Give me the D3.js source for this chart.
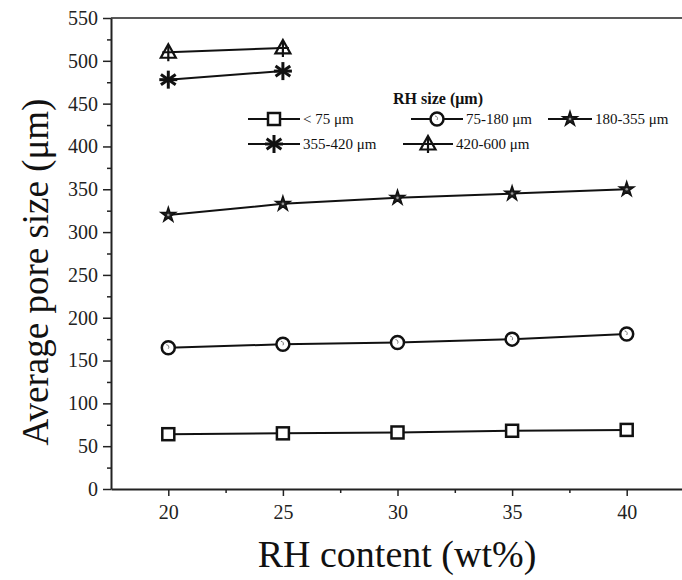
<!DOCTYPE html>
<html>
<head>
<meta charset="utf-8">
<script src="https://cdn.jsdelivr.net/npm/d3@7"></script>
<style>
  body { margin: 0; background: #ffffff; }
  svg text { font-family: "Liberation Serif", "Times New Roman", Times, serif; fill: #111; }
</style>
</head>
<body>
<script>
// data
const rhContent = [20, 25, 30, 35, 40];
const seriesNames = ["< 75 \u03bcm", "75-180 \u03bcm", "180-355 \u03bcm", "355-420 \u03bcm", "420-600 \u03bcm"];
const seriesMarkers = ["square", "circle", "star", "asterisk", "triangle"];
const sizeBelow75 = [64, 65, 66, 68, 69];
const size75to180 = [165, 169, 171, 175, 181];
const size180to355 = [320, 333, 340, 345, 350];
const size355to420 = [478, 488];
const size420to600 = [510, 515];
const xTicks = [20, 25, 30, 35, 40];
const yTicks = [0, 50, 100, 150, 200, 250, 300, 350, 400, 450, 500, 550];

const allSeries = [sizeBelow75, size75to180, size180to355, size355to420, size420to600];

const W = 682, H = 580;
const m = { left: 111, top: 18, right: 0, bottom: 91 };
const serif = "\"Liberation Serif\", \"Times New Roman\", Times, serif";

const svg = d3.select("body").append("svg")
  .attr("width", W)
  .attr("height", H);

const x = d3.scaleLinear().domain([17.5, 42.5]).range([m.left, W - m.right + 2]);
const y = d3.scaleLinear().domain([0, 550]).range([H - m.bottom, m.top]);

// top frame line
svg.append("line")
  .attr("x1", m.left).attr("x2", W)
  .attr("y1", y(550)).attr("y2", y(550))
  .attr("stroke", "#222").attr("stroke-width", 1.5);

// minor ticks
const xMinor = d3.range(17.5, 42.6, 2.5).filter(v => !xTicks.includes(v) && v > 17.6);
svg.append("g")
  .attr("transform", `translate(0,${y(0)})`)
  .call(d3.axisBottom(x).tickValues(xMinor).tickSize(4).tickFormat(""))
  .call(g => g.select(".domain").remove())
  .selectAll("line").attr("stroke", "#222").attr("stroke-width", 1.5);

svg.append("g")
  .attr("transform", `translate(${m.left},0)`)
  .call(d3.axisLeft(y).tickValues(d3.range(25, 550, 50)).tickSize(4).tickFormat(""))
  .call(g => g.select(".domain").remove())
  .selectAll("line").attr("stroke", "#222").attr("stroke-width", 1.5);

// x axis
const xAxis = svg.append("g")
  .attr("transform", `translate(0,${y(0)})`)
  .call(d3.axisBottom(x).tickValues(xTicks).tickSize(7).tickPadding(9).tickSizeOuter(0))
  .attr("font-family", null)
  .attr("font-size", null);
xAxis.select(".domain").attr("stroke", "#222").attr("stroke-width", 2);
xAxis.selectAll("line").attr("stroke", "#222").attr("stroke-width", 1.5);
xAxis.selectAll("text")
  .style("font-family", serif)
  .style("font-size", "20px")
  .style("fill", "#222");

// y axis
const yAxis = svg.append("g")
  .attr("transform", `translate(${m.left},0)`)
  .call(d3.axisLeft(y).tickValues(yTicks).tickSize(8).tickPadding(5).tickSizeOuter(0))
  .attr("font-family", null)
  .attr("font-size", null);
yAxis.select(".domain").attr("stroke", "#222").attr("stroke-width", 2);
yAxis.selectAll("line").attr("stroke", "#222").attr("stroke-width", 1.5);
yAxis.selectAll("text")
  .style("font-family", serif)
  .style("font-size", "20px")
  .style("fill", "#222");

// axis titles
svg.append("text")
  .attr("x", 397)
  .attr("y", 567)
  .attr("text-anchor", "middle")
  .style("font-size", "38px")
  .text("RH content (wt%)");

svg.append("text")
  .attr("transform", `translate(48,${272}) rotate(-90)`)
  .attr("text-anchor", "middle")
  .style("font-size", "37px")
  .text("Average pore size (\u03bcm)");

// marker drawing
function drawMarker(g, type, cx, cy) {
  const s = g.append("g").attr("transform", `translate(${cx},${cy})`);
  if (type === "square") {
    s.append("rect").attr("x", -6).attr("y", -6).attr("width", 12).attr("height", 12)
      .attr("fill", "#fff").attr("stroke", "#111").attr("stroke-width", 2.5);
  } else if (type === "circle") {
    s.append("circle").attr("r", 6.5)
      .attr("fill", "#fff").attr("stroke", "#111").attr("stroke-width", 2.5);
    s.append("path").attr("d", "M-2,-3 A2.5,2.5 0 0 1 0,1")
      .attr("fill", "none").attr("stroke", "#777").attr("stroke-width", 1);
  } else if (type === "star") {
    s.append("path").attr("d", d3.symbol(d3.symbolStar, 65)())
      .attr("fill", "#222").attr("stroke", "#111").attr("stroke-width", 1.5);
    s.append("circle").attr("r", 1.3).attr("fill", "#999");
  } else if (type === "asterisk") {
    [0, 55, -55, 90].forEach(a => {
      s.append("line")
        .attr("x1", 0).attr("y1", -9).attr("x2", 0).attr("y2", 9)
        .attr("transform", `rotate(${a})`)
        .attr("stroke", "#111").attr("stroke-width", 3);
    });
  } else if (type === "triangle") {
    s.append("path").attr("d", "M0,-8 L7.5,5.5 L-7.5,5.5 Z")
      .attr("fill", "#fff").attr("stroke", "#111").attr("stroke-width", 2.2);
    s.append("line").attr("x1", 0).attr("x2", 0).attr("y1", -6).attr("y2", 9)
      .attr("stroke", "#111").attr("stroke-width", 2.2);
    s.append("line").attr("x1", -6).attr("x2", 6).attr("y1", 0).attr("y2", 0)
      .attr("stroke", "#111").attr("stroke-width", 2);
  }
}

const line = d3.line()
  .x((d, i) => x(rhContent[i]))
  .y(d => y(d));

const plot = svg.append("g");
allSeries.forEach((vals, k) => {
  plot.append("path")
    .attr("d", line(vals))
    .attr("fill", "none")
    .attr("stroke", "#111")
    .attr("stroke-width", 2);
  vals.forEach((v, i) => drawMarker(plot, seriesMarkers[k], x(rhContent[i]), y(v)));
});

// legend
const legend = svg.append("g");
legend.append("text")
  .attr("x", 438)
  .attr("y", 104)
  .attr("text-anchor", "middle")
  .style("font-size", "16px")
  .style("font-weight", "bold")
  .text("RH size (\u03bcm)");

const legendPos = [
  { x1: 248, x2: 300, cy: 119 },
  { x1: 411, x2: 463, cy: 119 },
  { x1: 548, x2: 592, cy: 119 },
  { x1: 248, x2: 300, cy: 144 },
  { x1: 403, x2: 453, cy: 144 }
];
seriesNames.forEach((name, k) => {
  const p = legendPos[k];
  legend.append("line")
    .attr("x1", p.x1).attr("x2", p.x2)
    .attr("y1", p.cy).attr("y2", p.cy)
    .attr("stroke", "#111").attr("stroke-width", 2);
  drawMarker(legend, seriesMarkers[k], (p.x1 + p.x2) / 2, p.cy);
  legend.append("text")
    .attr("x", p.x2 + 3)
    .attr("y", p.cy + 5)
    .style("font-size", "15px")
    .text(name);
});
</script>
</body>
</html>
